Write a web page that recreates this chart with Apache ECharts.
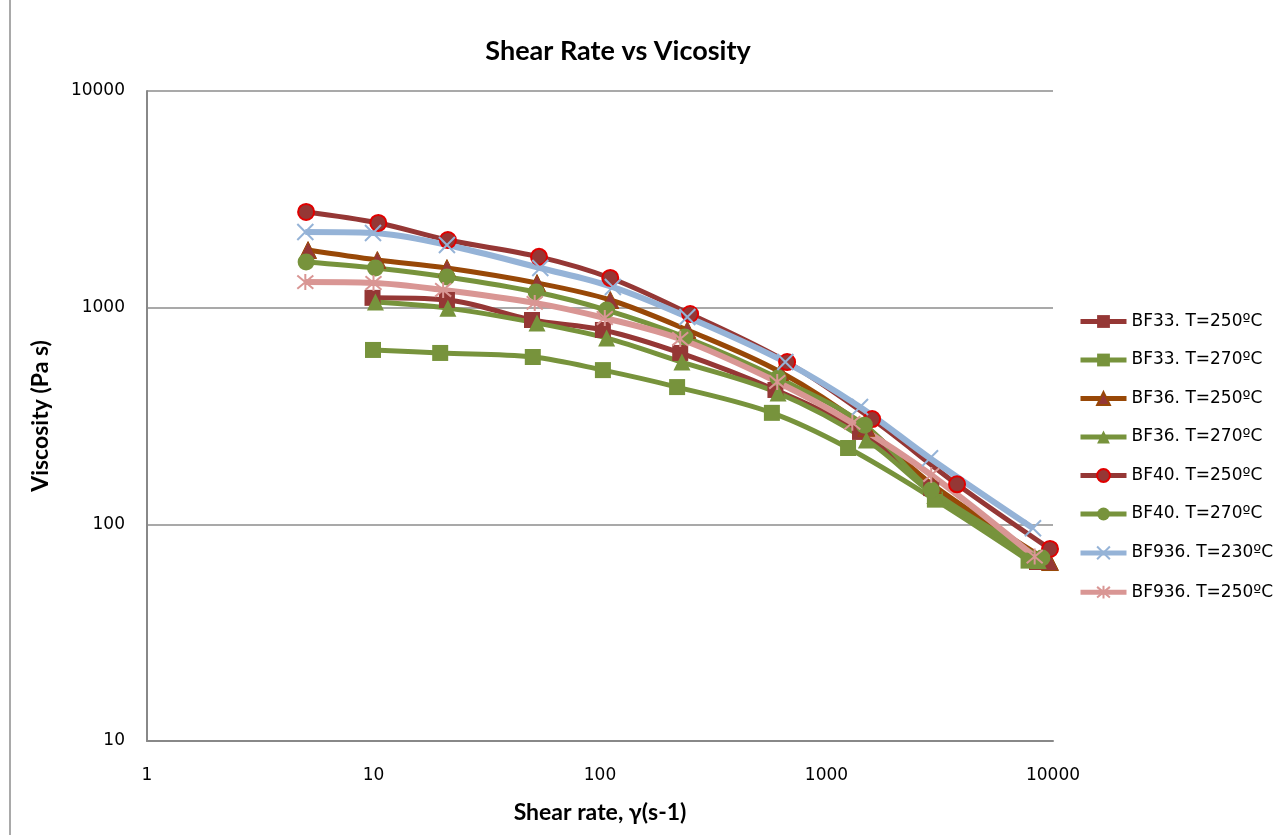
<!DOCTYPE html>
<html>
<head>
<meta charset="utf-8">
<script src="https://cdn.jsdelivr.net/npm/echarts@6/dist/echarts.min.js"></script>
<style>html,body{margin:0;padding:0;background:#fff;overflow:hidden}#c{width:1281px;height:835px}</style>
</head>
<body>
<div id="c"></div>
<script>
// Data (shear rate in s-1, viscosity in Pa s)
const seriesNames = ['BF33. T=250ºC','BF33. T=270ºC','BF36. T=250ºC','BF36. T=270ºC','BF40. T=250ºC','BF40. T=270ºC','BF936. T=230ºC','BF936. T=250ºC'];
const xTickLabels = ['1','10','100','1000','10000'];
const yTickLabels = ['10','100','1000','10000'];

const bf33_250_x = [9.9, 21.1, 50.1, 103, 226, 595, 1406, 2900, 8500];
const bf33_250_y = [1110, 1085, 877, 789, 618, 417, 267, 147, 67];

const bf33_270_x = [9.95, 19.7, 50.5, 103, 219, 574, 1245, 3010, 7800];
const bf33_270_y = [638, 618, 592, 515, 430, 327, 225, 130, 68];

const bf36_250_x = [5.14, 10.4, 21.1, 52.7, 111, 243, 625, 1500, 2950, 9700];
const bf36_250_y = [1845, 1660, 1524, 1300, 1085, 789, 505, 279, 152, 67];

const bf36_270_x = [10.2, 21.3, 52.7, 107, 230, 611, 1500, 3010, 8600];
const bf36_270_y = [1062, 995, 849, 724, 561, 404, 245, 136, 68];

const bf40_250_x = [5.04, 10.5, 21.3, 53.8, 111, 250, 670, 1590, 3770, 9700];
const bf40_250_y = [2765, 2460, 2052, 1716, 1371, 935, 561, 306, 153, 77];

const bf40_270_x = [5.04, 10.2, 21.1, 52.2, 107, 237, 611, 1470, 2900, 8935];
const bf40_270_y = [1626, 1525, 1386, 1181, 975, 732, 473, 287, 144, 70];

const bf936_230_x = [5.0, 9.95, 21.1, 54.5, 114, 243, 658, 1406, 2865, 8160];
const bf936_230_y = [2234, 2213, 1946, 1524, 1245, 906, 561, 348, 202, 96];

const bf936_250_x = [5.0, 10.0, 20.3, 51.5, 105, 226, 606, 1300, 2900, 8300];
const bf936_250_y = [1312, 1300, 1207, 1052, 896, 717, 454, 294, 169, 71];

function pairs(xs, ys){ return xs.map((x,i)=>[x, ys[i]]); }

const DR = '#953735', GR = '#77933C', BR = '#984807', BL = '#95B3D7', PK = '#D99694';
const xSym = 'path://M0,0L10,10M10,0L0,10';
const starSym = 'path://M0,0L10,10M10,0L0,10M5,-1L5,11';

function mk(name, data, lineColor, symbol, size, fill, border, bw, lw){
  return {
    name, type:'line', data, smooth:0.35, symbol, symbolSize:size,
    lineStyle:{color:lineColor, width:lw||5},
    itemStyle:{color:fill, borderColor:border, borderWidth:bw},
    emphasis:{disabled:true}, z: 2
  };
}

const series = [
  mk(seriesNames[0], pairs(bf33_250_x,bf33_250_y), DR, 'rect', 16, DR, DR, 0),
  mk(seriesNames[1], pairs(bf33_270_x,bf33_270_y), GR, 'rect', 16, GR, GR, 0),
  mk(seriesNames[2], pairs(bf36_250_x,bf36_250_y), BR, 'triangle', 17, DR, BR, 1),
  mk(seriesNames[3], pairs(bf36_270_x,bf36_270_y), GR, 'triangle', 17, GR, GR, 0),
  mk(seriesNames[4], pairs(bf40_250_x,bf40_250_y), DR, 'circle', 16, DR, '#E00000', 2),
  mk(seriesNames[5], pairs(bf40_270_x,bf40_270_y), GR, 'circle', 17, GR, GR, 0),
  mk(seriesNames[6], pairs(bf936_230_x,bf936_230_y), BL, xSym, 16, 'none', BL, 2, 6),
  mk(seriesNames[7], pairs(bf936_250_x,bf936_250_y), PK, starSym, 16, 'none', PK, 2, 6)
];

const chart = echarts.init(document.getElementById('c'));
chart.setOption({
  animation:false,
  backgroundColor:'#fff',
  title:{text:'Shear Rate vs Vicosity', left:613, top:33, textAlign:'center',
    textStyle:{fontFamily:'Lato', fontWeight:'bold', fontSize:27, color:'#000'}},
  grid:{left:147, right:228, top:91, bottom:94},
  legend:{orient:'vertical', left:1073, top:308, itemWidth:46, itemHeight:16, itemGap:21.5,
    lineStyle:{width:5},
    textStyle:{fontFamily:'DejaVu Sans', fontSize:17, color:'#000', padding:[0,0,0,0]}, data:seriesNames},
  xAxis:{type:'log', logBase:10, min:1, max:10000,
    name:'Shear rate, γ(s-1)', nameLocation:'middle', nameGap:60,
    nameTextStyle:{fontFamily:'Lato', fontWeight:'bold', fontSize:23, color:'#000'},
    axisLine:{lineStyle:{color:'#888', width:2}},
    axisTick:{show:false},
    splitLine:{show:false},
    axisLabel:{fontFamily:'DejaVu Sans', fontSize:17, color:'#000', margin:26,
      formatter:(v)=>{const s=String(Math.round(v)); return xTickLabels.includes(s)?s:'';}}},
  yAxis:{type:'log', logBase:10, min:10, max:10000,
    name:'Viscosity (Pa s)', nameLocation:'middle', nameGap:95,
    nameTextStyle:{fontFamily:'Lato', fontWeight:'bold', fontSize:23, color:'#000'},
    axisLine:{show:true, lineStyle:{color:'#888', width:2}},
    axisTick:{show:false},
    splitLine:{show:true, lineStyle:{color:'#8c8c8c', width:1.5}},
    axisLabel:{fontFamily:'DejaVu Sans', fontSize:17, color:'#000', margin:22,
      formatter:(v)=>{const s=String(Math.round(v)); return yTickLabels.includes(s)?s:'';}}},
  graphic:[{type:'line', shape:{x1:10, y1:0, x2:10, y2:835}, style:{stroke:'#8c8c8c', lineWidth:1.5}, silent:true}],
  series
});
</script>
</body>
</html>
